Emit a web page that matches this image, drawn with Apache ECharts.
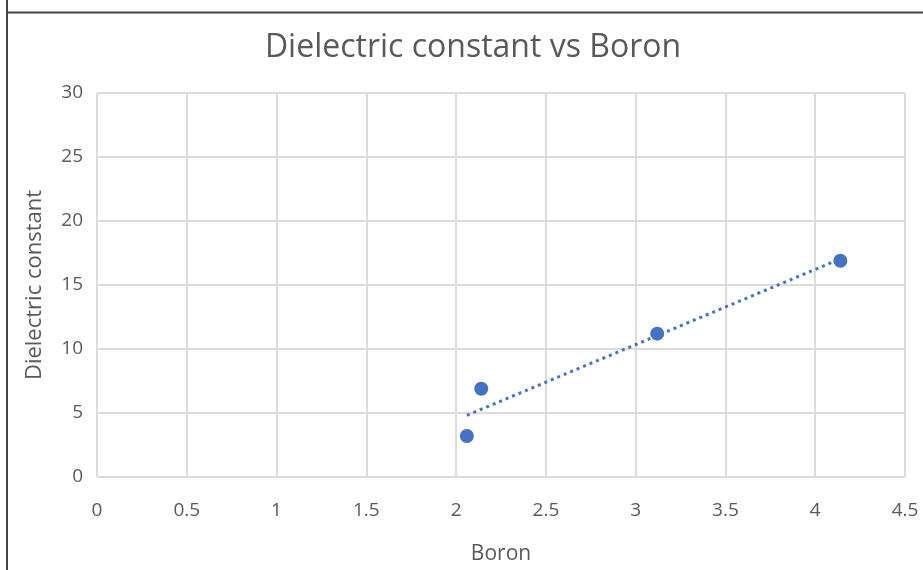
<!DOCTYPE html>
<html>
<head>
<meta charset="utf-8">
<script src="https://cdn.jsdelivr.net/npm/echarts@6/dist/echarts.min.js"></script>
<style>
html,body{margin:0;padding:0;background:#fff;overflow:hidden;}
#c{width:923px;height:570px;}
</style>
</head>
<body>
<div id="c"></div>
<script>
// Data
const boron = [2.06, 2.14, 3.12, 4.14];
const dielectric = [3.2, 6.9, 11.2, 16.9];
const xTicks = [0, 0.5, 1, 1.5, 2, 2.5, 3, 3.5, 4, 4.5];
const yTicks = [0, 5, 10, 15, 20, 25, 30];

// Linear least-squares trendline (as Excel computes it)
const n = boron.length;
const mx = boron.reduce((a, b) => a + b, 0) / n;
const my = dielectric.reduce((a, b) => a + b, 0) / n;
let sxy = 0, sxx = 0;
for (let i = 0; i < n; i++) { sxy += (boron[i] - mx) * (dielectric[i] - my); sxx += (boron[i] - mx) ** 2; }
const slope = sxy / sxx, intercept = my - slope * mx;
const xMin = Math.min(...boron), xMax = Math.max(...boron);
const trend = [[xMin, intercept + slope * xMin], [xMax, intercept + slope * xMax]];

const FONT = '"Open Sans", "Noto Sans", sans-serif';
const GREY = '#595959';
const chart = echarts.init(document.getElementById('c'), null, {renderer: 'canvas', width: 923, height: 570});
chart.setOption({
  animation: false,
  backgroundColor: '#fff',
  title: {
    text: 'Dielectric constant vs Boron',
    left: 468, top: 27, textAlign: 'center',
    textStyle: {fontFamily: FONT, fontSize: 32, fontWeight: 'normal', color: GREY}
  },
  grid: {left: 97, top: 93, width: 808, height: 390, containLabel: false},
  xAxis: {
    type: 'value', min: 0, max: 4.5, interval: 0.5,
    name: 'Boron', nameLocation: 'middle', nameGap: 67,
    nameTextStyle: {fontFamily: FONT, fontSize: 21, color: GREY},
    axisLine: {show: false}, axisTick: {show: false},
    axisLabel: {fontFamily: FONT, fontSize: 19, color: GREY, margin: 24,
      formatter: v => xTicks.includes(+v.toFixed(2)) ? String(v) : ''},
    splitLine: {show: true, lineStyle: {color: '#dcdcdc', width: 2}}
  },
  yAxis: {
    type: 'value', min: 0, max: 30, interval: 5,
    name: 'Dielectric constant', nameLocation: 'middle', nameGap: 51, nameRotate: 90,
    nameTextStyle: {fontFamily: FONT, fontSize: 22, color: GREY},
    axisLine: {show: false}, axisTick: {show: false},
    axisLabel: {fontFamily: FONT, fontSize: 19, color: GREY, margin: 14,
      formatter: v => yTicks.includes(v) ? String(v) : ''},
    splitLine: {show: true, lineStyle: {color: '#dcdcdc', width: 2}}
  },
  graphic: [
    {type: 'line', shape: {x1: 7, y1: 0, x2: 7, y2: 570}, style: {stroke: '#444', lineWidth: 2}, z: 100, silent: true},
    {type: 'line', shape: {x1: 6, y1: 12.5, x2: 923, y2: 12.5}, style: {stroke: '#444', lineWidth: 2}, z: 100, silent: true}
  ],
  series: [
    {
      type: 'line', data: trend, showSymbol: false, symbol: 'none',
      lineStyle: {color: '#4472C4', width: 3, type: [3, 4]}, z: 2
    },
    {
      type: 'scatter', data: boron.map((x, i) => [x, dielectric[i]]),
      symbol: 'circle', symbolSize: 14,
      itemStyle: {color: '#4472C4', opacity: 1}, z: 3
    }
  ]
});
</script>
</body>
</html>
